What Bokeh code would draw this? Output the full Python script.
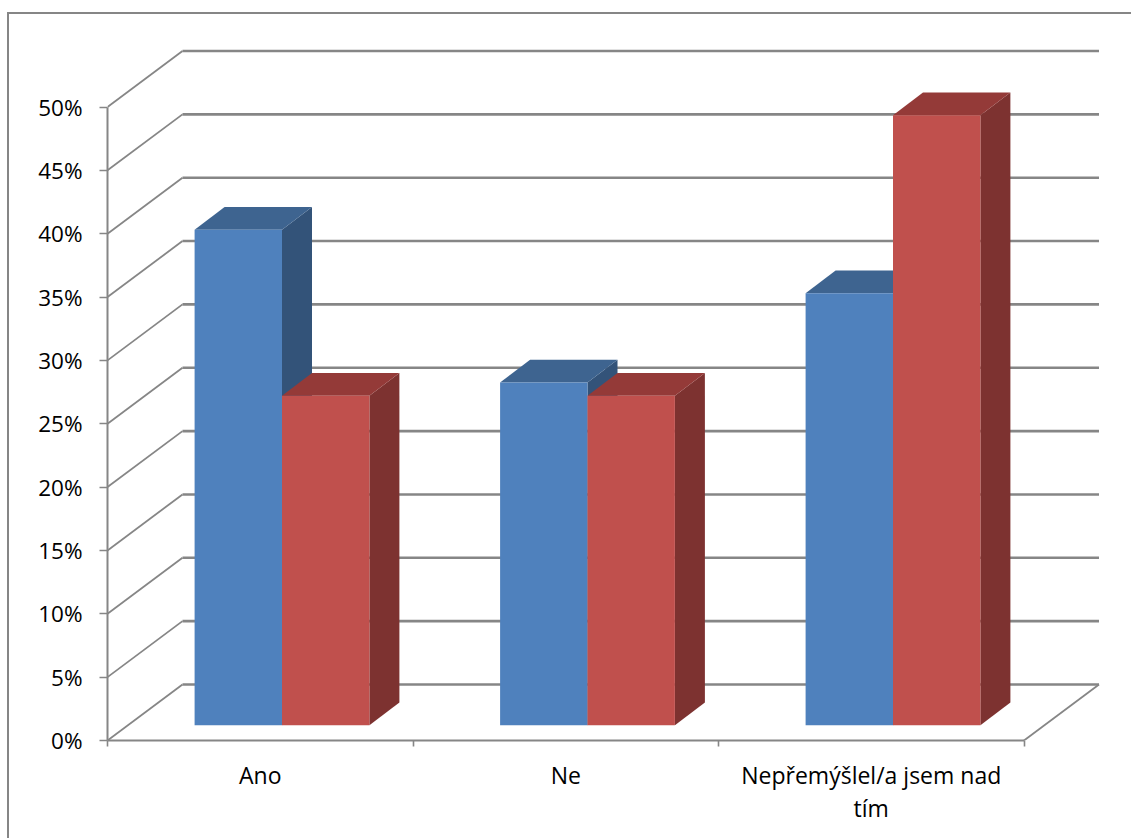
from bokeh.plotting import figure
from bokeh.embed import file_html
from bokeh.resources import INLINE
from bokeh.models import FixedTicker, Range1d, InlineStyleSheet

categories = ["Ano", "Ne", "Nepřemýšlel/a jsem nad\ntím"]
series_blue = [39.1, 27.05, 34.1]
series_red = [26.0, 26.0, 48.15]
y_ticks = [0, 5, 10, 15, 20, 25, 30, 35, 40, 45, 50]

GREY = "#868686"
FONT = "Open Sans"

W, H = 1131, 838
LEFT, RIGHT_EDGE, TOP, BOTTOM = 107, 1109, 45, 740   # frame, px
PX_X, PX_Y = 305.5, 12.67
frame_w = RIGHT_EDGE - LEFT
frame_h = BOTTOM - TOP

p = figure(width=W, height=H, output_backend="svg", toolbar_location=None,
           x_range=Range1d(0, frame_w / PX_X), y_range=Range1d(0, frame_h / PX_Y),
           min_border_left=LEFT, min_border_right=W - RIGHT_EDGE,
           min_border_top=TOP, min_border_bottom=H - BOTTOM,
           outline_line_color=None, background_fill_color="white")
p.grid.visible = False

# depth of the 3D box, in data units
DX, DY = 75 / PX_X, 56 / PX_Y
n = len(categories)

# walls
p.multi_line([[0, DX] for _ in y_ticks], [[t, t + DY] for t in y_ticks],
             line_color=GREY, line_width=1.8)
p.multi_line([[DX, n + DX] for _ in y_ticks], [[t + DY, t + DY] for t in y_ticks],
             line_color=GREY, line_width=2.6)
p.line([n, n + DX], [0, DY], line_color=GREY, line_width=1.8)

# bars
BW = 87.4 / PX_X
GAP = 87.1 / PX_X
BASE = 15.3 / PX_Y
BDX, BDY = 30 / PX_X, 22.7 / PX_Y


def bars(values, offset, front, top, side):
    for i, v in enumerate(values):
        x0 = i + GAP + offset * BW
        x1 = x0 + BW
        y0, y1 = BASE, BASE + v
        p.patch([x1, x1 + BDX, x1 + BDX, x1], [y0, y0 + BDY, y1 + BDY, y1], fill_color=side, line_color=None)
        p.patch([x0, x0 + BDX, x1 + BDX, x1], [y1, y1 + BDY, y1 + BDY, y1], fill_color=top, line_color=None)
        p.quad(left=x0, right=x1, bottom=y0, top=y1, fill_color=front, line_color=None)


bars(series_blue, 0, "#4F81BD", "#3E6490", "#335379")
bars(series_red, 1, "#C0504D", "#943A38", "#7D3230")

# axes
ya = p.yaxis[0]
ya.ticker = FixedTicker(ticks=y_ticks)
ya.major_label_overrides = {t: f"{t}%" for t in y_ticks}
ya.bounds = (0, 50)
ya.axis_line_color = GREY
ya.axis_line_width = 2
ya.major_tick_line_color = GREY
ya.major_tick_line_width = 1.6
ya.major_tick_out = 8
ya.major_tick_in = 0
ya.minor_tick_line_color = None
ya.major_label_standoff = 17
ya.major_label_text_font = FONT
ya.major_label_text_font_size = "22.5px"
ya.major_label_text_color = "black"

xa = p.xaxis[0]
centers = [i + 0.5 for i in range(n)]
xa.ticker = FixedTicker(ticks=centers, minor_ticks=list(range(n + 1)))
xa.major_label_overrides = dict(zip(centers, categories))
xa.bounds = (0, n)
xa.axis_line_color = GREY
xa.axis_line_width = 2
xa.major_tick_line_color = None
xa.minor_tick_line_color = GREY
xa.minor_tick_line_width = 1.6
xa.minor_tick_out = 6
xa.minor_tick_in = 0
xa.major_label_standoff = 12
xa.major_label_text_font = FONT
xa.major_label_text_font_size = "23px"
xa.major_label_text_line_height = 1.035
xa.major_label_text_color = "black"

# chart-area border: left + top edges
p.stylesheets = [InlineStyleSheet(css=f""":host::after {{
  content: ""; position: absolute; left: 7px; top: 12px; right: 0; bottom: 0;
  border-left: 2px solid {GREY}; border-top: 2px solid {GREY}; pointer-events: none;
}}""")]

open("out.html", "w").write(file_html(p, INLINE))
